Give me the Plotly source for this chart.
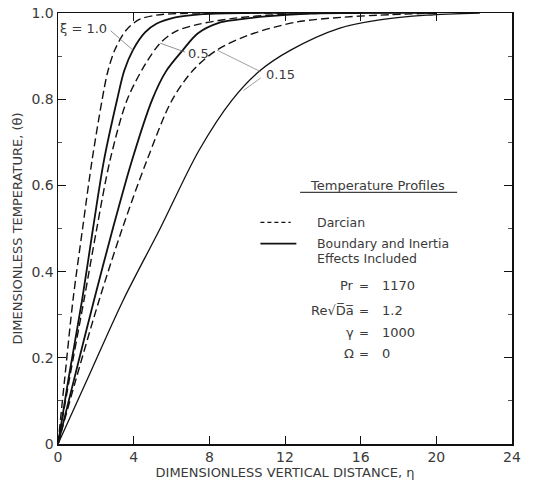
import plotly.graph_objects as go

# ---- data ----
eta_darcy_10 = [0, 0.35, 0.79, 1.3, 1.8, 2.33, 2.62, 3.0, 3.6, 4.3, 5.2, 6.5, 9, 12]
theta_darcy_10 = [0, 0.15, 0.333, 0.50, 0.658, 0.798, 0.862, 0.914, 0.96, 0.985, 0.995, 0.999, 1.0, 1.0]

eta_full_10 = [0, 0.55, 1.27, 1.85, 2.43, 3.12, 3.5, 3.96, 4.6, 5.2, 6.2, 7.5, 10, 16]
theta_full_10 = [0, 0.15, 0.333, 0.50, 0.658, 0.798, 0.866, 0.914, 0.955, 0.975, 0.99, 0.997, 1.0, 1.0]

eta_darcy_05 = [0, 0.6, 1.37, 2.05, 2.75, 3.65, 4.6, 5.4, 6.2, 7.24, 9.35, 12, 16]
theta_darcy_05 = [0, 0.15, 0.333, 0.50, 0.658, 0.798, 0.88, 0.93, 0.957, 0.972, 0.988, 0.997, 1.0]

eta_full_05 = [0, 0.85, 1.90, 2.9, 3.91, 4.97, 5.7, 6.6, 7.4, 8.5, 9.4, 11, 13, 20]
theta_full_05 = [0, 0.15, 0.333, 0.50, 0.658, 0.798, 0.864, 0.914, 0.953, 0.977, 0.984, 0.992, 0.998, 1.0]

eta_darcy_015 = [0, 0.95, 2.17, 3.4, 4.70, 6.03, 7.2, 8.4, 10.1, 12.6, 15, 17, 20]
theta_darcy_015 = [0, 0.15, 0.333, 0.50, 0.658, 0.798, 0.87, 0.914, 0.949, 0.979, 0.99, 0.995, 1.0]

eta_full_015 = [0, 1.55, 3.44, 5.4, 7.45, 9.2, 10.7, 12.3, 14.9, 17.0, 19.5, 22.3]
theta_full_015 = [0, 0.15, 0.333, 0.50, 0.681, 0.798, 0.867, 0.914, 0.965, 0.984, 0.995, 1.0]

x_ticks = [0, 4, 8, 12, 16, 20, 24]
x_ticktext = ["0", "4", "8", "12", "16", "20", "24"]
y_ticks = [0, 0.2, 0.4, 0.6, 0.8, 1.0]
y_ticktext = ["0", "0.2", "0.4", "0.6", "0.8", "1.0"]

param_names = ["Pr", "Re√D\u0305a\u0305", "γ", "Ω"]
param_values = ["1170", "1.2", "1000", "0"]

FONT = "DejaVu Sans"
INK = "#111111"
TXT = "#3a3a3a"

fig = go.Figure()

curves = [
    (eta_darcy_10, theta_darcy_10, "dash", 1.4),
    (eta_full_10, theta_full_10, "solid", 1.8),
    (eta_darcy_05, theta_darcy_05, "dash", 1.4),
    (eta_full_05, theta_full_05, "solid", 1.8),
    (eta_darcy_015, theta_darcy_015, "dash", 1.4),
    (eta_full_015, theta_full_015, "solid", 1.3),
]
for xs, ys, dash, w in curves:
    fig.add_trace(go.Scatter(
        x=xs, y=ys, mode="lines",
        line=dict(color=INK, width=w, dash="8px,4px" if dash == "dash" else "solid",
                  shape="spline", smoothing=0.9),
        showlegend=False, hoverinfo="skip"))

ann = []
# curve labels with leaders
ann.append(dict(x=eta_full_10[7], y=theta_full_10[7], ax=2.7, ay=0.962, axref="x", ayref="y",
                showarrow=True, arrowhead=0, arrowwidth=0.8, arrowcolor="#777", text=""))
ann.append(dict(x=1.35, y=0.963, text="ξ = 1.0", showarrow=False, font=dict(size=13, color=TXT)))
ann.append(dict(x=eta_darcy_05[7], y=theta_darcy_05[7], ax=6.8, ay=0.908, axref="x", ayref="y",
                showarrow=True, arrowhead=0, arrowwidth=0.8, arrowcolor="#777", text=""))
ann.append(dict(x=7.45, y=0.907, text="0.5", showarrow=False, font=dict(size=13, color=TXT)))
ann.append(dict(x=eta_darcy_015[7], y=theta_darcy_015[7], ax=10.8, ay=0.862, axref="x", ayref="y",
                showarrow=True, arrowhead=0, arrowwidth=0.8, arrowcolor="#888", text=""))
ann.append(dict(x=9.8, y=0.82, ax=10.8, ay=0.852, axref="x", ayref="y",
                showarrow=True, arrowhead=0, arrowwidth=0.8, arrowcolor="#888", text=""))
ann.append(dict(x=11.75, y=0.858, text="0.15", showarrow=False, font=dict(size=13, color=TXT)))

# legend block
ann.append(dict(x=16.9, y=0.600, text="Temperature Profiles", showarrow=False,
                font=dict(size=13, color=TXT)))
ann.append(dict(x=13.6, y=0.514, text="Darcian", xanchor="left", showarrow=False,
                font=dict(size=12.5, color=TXT)))
ann.append(dict(x=13.6, y=0.465, text="Boundary and Inertia", xanchor="left", showarrow=False,
                font=dict(size=12.5, color=TXT)))
ann.append(dict(x=13.6, y=0.430, text="Effects Included", xanchor="left", showarrow=False,
                font=dict(size=12.5, color=TXT)))

rows_y = [0.367, 0.309, 0.258, 0.209]
for name, val, yy in zip(param_names, param_values, rows_y):
    ann.append(dict(x=15.75, y=yy, text=name, xanchor="right", showarrow=False,
                    font=dict(size=13, color=TXT)))
    ann.append(dict(x=16.2, y=yy, text="=", showarrow=False, font=dict(size=12, color=TXT)))
    ann.append(dict(x=17.0, y=yy, text=val, xanchor="left", showarrow=False,
                    font=dict(size=13, color=TXT)))

for a in ann:
    a.setdefault("xref", "x")
    a.setdefault("yref", "y")
fig.update_layout(annotations=ann)

shapes = [
    dict(type="line", xref="x", yref="y", x0=12.8, x1=21.1, y0=0.584, y1=0.584,
         line=dict(color=INK, width=1)),
    dict(type="line", xref="x", yref="y", x0=10.7, x1=12.3, y0=0.514, y1=0.514,
         line=dict(color=INK, width=1.2, dash="4px,3px")),
    dict(type="line", xref="x", yref="y", x0=10.7, x1=12.6, y0=0.465, y1=0.465,
         line=dict(color=INK, width=1.8)),
]
fig.update_layout(shapes=shapes)

fig.update_xaxes(range=[0, 24], tickvals=x_ticks, ticktext=x_ticktext,
                 ticks="inside", ticklen=8, tickwidth=1, tickcolor=INK,
                 showline=True, linecolor=INK, linewidth=1.5, mirror="ticks",
                 showgrid=False, zeroline=False, automargin=False,
                 ticklabeloverflow="allow",
                 tickfont=dict(size=14, color=TXT),
                 title=dict(text="DIMENSIONLESS VERTICAL DISTANCE, η",
                            font=dict(size=13, color=TXT), standoff=2))
fig.update_yaxes(range=[0, 1], tickvals=y_ticks, ticktext=y_ticktext,
                 ticks="inside", ticklen=8, tickwidth=1, tickcolor=INK,
                 minor=dict(ticks="inside", dtick=0.1, ticklen=4, tickcolor="#555", showgrid=False),
                 showline=True, linecolor=INK, linewidth=1.5, mirror="ticks",
                 showgrid=False, zeroline=False, automargin=False,
                 ticklabeloverflow="allow",
                 tickfont=dict(size=14, color=TXT),
                 title=dict(text="DIMENSIONLESS TEMPERATURE, (θ)",
                            font=dict(size=13, color=TXT), standoff=6))

fig.update_layout(width=534, height=495,
                  margin=dict(l=58, r=22, t=13, b=51),
                  paper_bgcolor="white", plot_bgcolor="white",
                  font=dict(family=FONT, color=TXT))

# remove the default 8px page margin so the figure fills the window exactly
fig.write_html("out.html", config={"displayModeBar": False, "staticPlot": True},
               post_script="document.body.style.margin='0px';")
